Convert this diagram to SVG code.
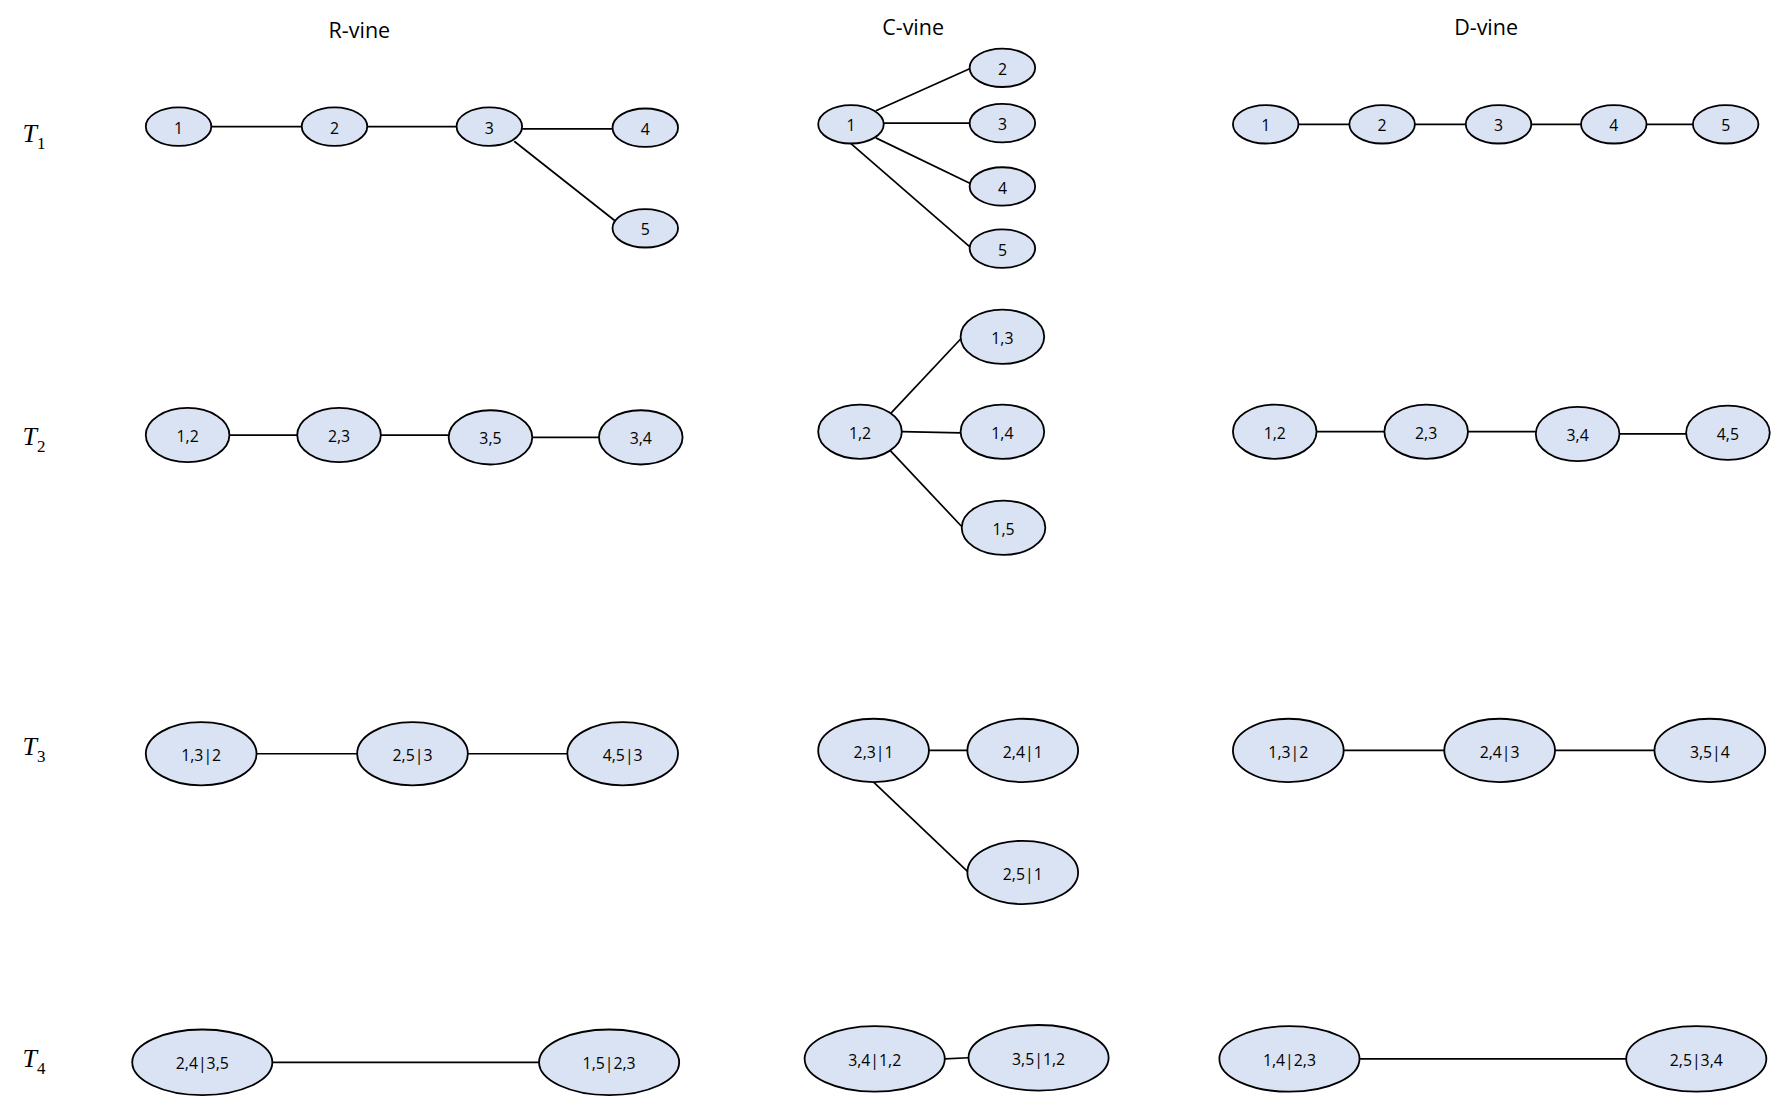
<svg xmlns="http://www.w3.org/2000/svg" width="1772" height="1096" viewBox="0 0 1772 1096">
<style>
.n ellipse{fill:#dae3f3;stroke:#000;stroke-width:1.6}
.n text{font-family:"Open Sans","Noto Sans",sans-serif;font-size:14px;text-anchor:middle;dominant-baseline:central}
.h{font-family:"Open Sans","Noto Sans",sans-serif;font-size:19px;text-anchor:middle}
.t{font-family:"Liberation Serif",serif;font-style:italic;font-size:23px}
.t tspan{font-style:normal;font-size:15px}
#edges line{stroke:#000;stroke-width:1.5}
</style>
<rect width="1772" height="1096" fill="#fff"/>
<g transform="scale(1.1301)">
<text class="h" x="318" y="34">R-vine</text>
<text class="h" x="808" y="31">C-vine</text>
<text class="h" x="1315" y="31">D-vine</text>
<text class="t" x="20" y="126">T<tspan dy="6">1</tspan></text>
<text class="t" x="20" y="394">T<tspan dy="6">2</tspan></text>
<text class="t" x="20" y="668">T<tspan dy="6">3</tspan></text>
<text class="t" x="20" y="944">T<tspan dy="6">4</tspan></text>
<g id="edges">
<line x1="187" y1="112" x2="267" y2="112"/><line x1="325" y1="112" x2="404" y2="112"/><line x1="462" y1="114" x2="542" y2="114"/><line x1="455" y1="125" x2="545" y2="196"/>
<line x1="775" y1="98" x2="860" y2="60"/><line x1="782" y1="109" x2="858" y2="109"/><line x1="775" y1="122" x2="860" y2="163"/><line x1="753" y1="127" x2="860" y2="220"/>
<line x1="1149" y1="110" x2="1194" y2="110"/><line x1="1252" y1="110" x2="1297" y2="110"/><line x1="1355" y1="110" x2="1399" y2="110"/><line x1="1457" y1="110" x2="1498" y2="110"/>
<line x1="203" y1="385" x2="263" y2="385"/><line x1="337" y1="385" x2="397" y2="385"/><line x1="471" y1="387" x2="530" y2="387"/>
<line x1="788" y1="366" x2="850" y2="300"/><line x1="798" y1="382" x2="850" y2="383"/><line x1="788" y1="399" x2="852" y2="467"/>
<line x1="1165" y1="382" x2="1225" y2="382"/><line x1="1299" y1="382" x2="1359" y2="382"/><line x1="1433" y1="384" x2="1492" y2="384"/>
<line x1="227" y1="667" x2="316" y2="667"/><line x1="414" y1="667" x2="502" y2="667"/>
<line x1="822" y1="664" x2="856" y2="664"/><line x1="773" y1="692" x2="857" y2="772"/>
<line x1="1189" y1="664" x2="1278" y2="664"/><line x1="1376" y1="664" x2="1464" y2="664"/>
<line x1="241" y1="940" x2="477" y2="940"/><line x1="836" y1="937" x2="857" y2="936"/><line x1="1203" y1="937" x2="1439" y2="937"/>
</g>
<g id="r1" class="n"><ellipse cx="158" cy="112" rx="29" ry="17"/><text x="158" y="113">1</text></g>
<g id="r2" class="n"><ellipse cx="296" cy="112" rx="29" ry="17"/><text x="296" y="113">2</text></g>
<g id="r3" class="n"><ellipse cx="433" cy="112" rx="29" ry="17"/><text x="433" y="113">3</text></g>
<g id="r4" class="n"><ellipse cx="571" cy="113" rx="29" ry="17"/><text x="571" y="114">4</text></g>
<g id="r5" class="n"><ellipse cx="571" cy="202" rx="29" ry="17"/><text x="571" y="203">5</text></g>
<g id="c1" class="n"><ellipse cx="753" cy="110" rx="29" ry="17"/><text x="753" y="111">1</text></g>
<g id="c2" class="n"><ellipse cx="887" cy="60" rx="29" ry="17"/><text x="887" y="61">2</text></g>
<g id="c3" class="n"><ellipse cx="887" cy="109" rx="29" ry="17"/><text x="887" y="110">3</text></g>
<g id="c4" class="n"><ellipse cx="887" cy="165" rx="29" ry="17"/><text x="887" y="166">4</text></g>
<g id="c5" class="n"><ellipse cx="887" cy="220" rx="29" ry="17"/><text x="887" y="221">5</text></g>
<g id="d1" class="n"><ellipse cx="1120" cy="110" rx="29" ry="17"/><text x="1120" y="111">1</text></g>
<g id="d2" class="n"><ellipse cx="1223" cy="110" rx="29" ry="17"/><text x="1223" y="111">2</text></g>
<g id="d3" class="n"><ellipse cx="1326" cy="110" rx="29" ry="17"/><text x="1326" y="111">3</text></g>
<g id="d4" class="n"><ellipse cx="1428" cy="110" rx="29" ry="17"/><text x="1428" y="111">4</text></g>
<g id="d5" class="n"><ellipse cx="1527" cy="110" rx="29" ry="17"/><text x="1527" y="111">5</text></g>
<g id="r12" class="n"><ellipse cx="166" cy="385" rx="37" ry="24"/><text x="166" y="386">1,2</text></g>
<g id="r23" class="n"><ellipse cx="300" cy="385" rx="37" ry="24"/><text x="300" y="386">2,3</text></g>
<g id="r35" class="n"><ellipse cx="434" cy="387" rx="37" ry="24"/><text x="434" y="388">3,5</text></g>
<g id="r34" class="n"><ellipse cx="567" cy="387" rx="37" ry="24"/><text x="567" y="388">3,4</text></g>
<g id="c12" class="n"><ellipse cx="761" cy="382" rx="37" ry="24"/><text x="761" y="383">1,2</text></g>
<g id="c13" class="n"><ellipse cx="887" cy="298" rx="37" ry="24"/><text x="887" y="299">1,3</text></g>
<g id="c14" class="n"><ellipse cx="887" cy="382" rx="37" ry="24"/><text x="887" y="383">1,4</text></g>
<g id="c15" class="n"><ellipse cx="888" cy="467" rx="37" ry="24"/><text x="888" y="468">1,5</text></g>
<g id="d12" class="n"><ellipse cx="1128" cy="382" rx="37" ry="24"/><text x="1128" y="383">1,2</text></g>
<g id="d23" class="n"><ellipse cx="1262" cy="382" rx="37" ry="24"/><text x="1262" y="383">2,3</text></g>
<g id="d34" class="n"><ellipse cx="1396" cy="384" rx="37" ry="24"/><text x="1396" y="385">3,4</text></g>
<g id="d45" class="n"><ellipse cx="1529" cy="383" rx="37" ry="24"/><text x="1529" y="384">4,5</text></g>
<g id="r132" class="n"><ellipse cx="178" cy="667" rx="49" ry="28"/><text x="178" y="668">1,3|2</text></g>
<g id="r253" class="n"><ellipse cx="365" cy="667" rx="49" ry="28"/><text x="365" y="668">2,5|3</text></g>
<g id="r453" class="n"><ellipse cx="551" cy="667" rx="49" ry="28"/><text x="551" y="668">4,5|3</text></g>
<g id="c231" class="n"><ellipse cx="773" cy="664" rx="49" ry="28"/><text x="773" y="665">2,3|1</text></g>
<g id="c241" class="n"><ellipse cx="905" cy="664" rx="49" ry="28"/><text x="905" y="665">2,4|1</text></g>
<g id="c251" class="n"><ellipse cx="905" cy="772" rx="49" ry="28"/><text x="905" y="773">2,5|1</text></g>
<g id="d132" class="n"><ellipse cx="1140" cy="664" rx="49" ry="28"/><text x="1140" y="665">1,3|2</text></g>
<g id="d243" class="n"><ellipse cx="1327" cy="664" rx="49" ry="28"/><text x="1327" y="665">2,4|3</text></g>
<g id="d354" class="n"><ellipse cx="1513" cy="664" rx="49" ry="28"/><text x="1513" y="665">3,5|4</text></g>
<g id="r2435" class="n"><ellipse cx="179" cy="940" rx="62" ry="29"/><text x="179" y="941">2,4|3,5</text></g>
<g id="r1523" class="n"><ellipse cx="539" cy="940" rx="62" ry="29"/><text x="539" y="941">1,5|2,3</text></g>
<g id="c3412" class="n"><ellipse cx="774" cy="937" rx="62" ry="29"/><text x="774" y="938">3,4|1,2</text></g>
<g id="c3512" class="n"><ellipse cx="919" cy="936" rx="62" ry="29"/><text x="919" y="937">3,5|1,2</text></g>
<g id="d1423" class="n"><ellipse cx="1141" cy="937" rx="62" ry="29"/><text x="1141" y="938">1,4|2,3</text></g>
<g id="d2534" class="n"><ellipse cx="1501" cy="937" rx="62" ry="29"/><text x="1501" y="938">2,5|3,4</text></g>
</g>
</svg>
